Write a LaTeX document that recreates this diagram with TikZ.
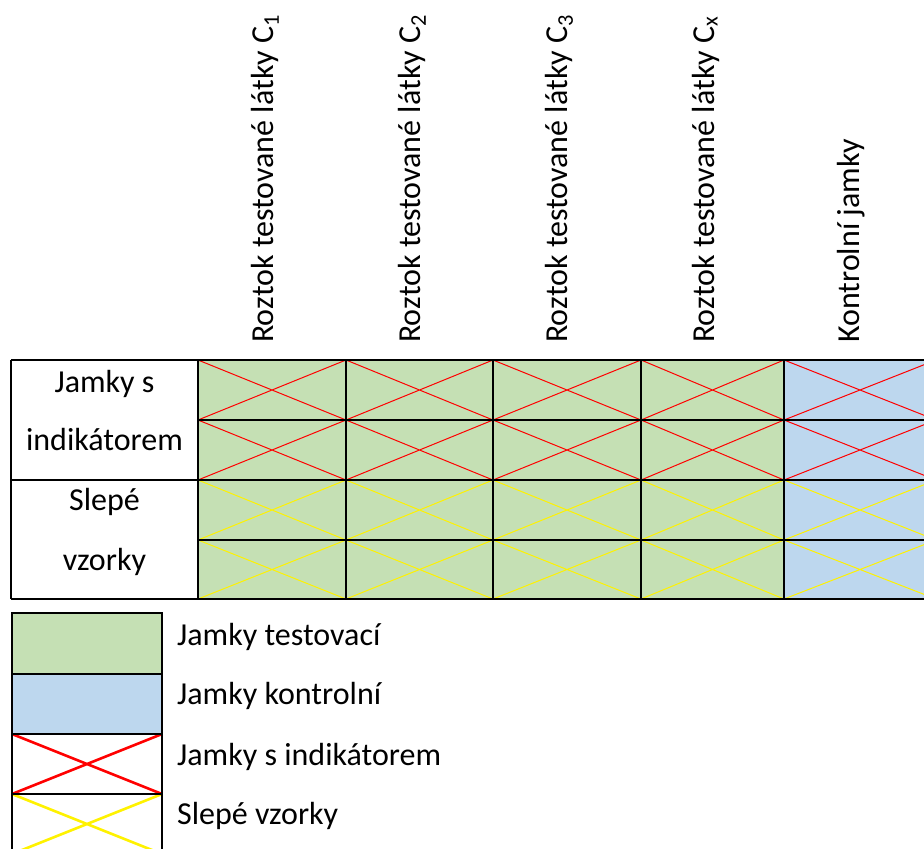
\documentclass[tikz,border=0pt]{standalone}
\usepackage{fontspec}
\setmainfont{Carlito}
\definecolor{wgreen}{HTML}{C5E0B4}
\definecolor{wblue}{HTML}{BDD7EE}
\begin{document}
\begin{tikzpicture}[x=1pt,y=-1pt,
  lbl/.style={font=\fontsize{32}{32}\selectfont, inner sep=0pt},
  gridline/.style={black, line width=1.9pt},
  cellx/.style={line width=1pt},
  legline/.style={black, line width=1.7pt},
  legx/.style={line width=2.6pt}]
\useasboundingbox (0,0) rectangle (924,849);
\clip (0,0) rectangle (924,849);
% cell fills
\fill[wgreen] (198,360) rectangle (784,599);
\fill[wblue] (784,360) rectangle (936,599);
% crosses in cells
\foreach \a/\b in {198/346,346/493,493/641,641/784,784/936}{
  \foreach \r/\s/\c in {360/420/red,420/480/red,480/540/yellow,540/599/yellow}{
    \draw[cellx,\c] (\a,\r) -- (\b,\s) (\a,\s) -- (\b,\r);
  }
}
% grid
\draw[gridline] (11,360) -- (936,360)
  (198,420) -- (936,420)
  (11,480) -- (936,480)
  (198,540) -- (936,540)
  (11,599) -- (936,599);
\foreach \x in {11,198,346,493,641,784}{
  \draw[gridline] (\x,360) -- (\x,599);
}
% row labels
\node[lbl, anchor=base] (r1a) at (104.5,392) {Jamky s};
\node[lbl, anchor=base] (r1b) at (104.5,450) {indikátorem};
\node[lbl, anchor=base] (r2a) at (104.5,510) {Slepé};
\node[lbl, anchor=base] (r2b) at (104.5,570) {vzorky};
% column labels
\node[lbl, rotate=90, anchor=base west] (c1) at (273,343) {Roztok testované látky C\textsubscript{1}};
\node[lbl, rotate=90, anchor=base west] (c2) at (420,343) {Roztok testované látky C\textsubscript{2}};
\node[lbl, rotate=90, anchor=base west] (c3) at (567,343) {Roztok testované látky C\textsubscript{3}};
\node[lbl, rotate=90, anchor=base west] (c4) at (714,343) {Roztok testované látky C\textsubscript{x}};
\node[lbl, rotate=90, anchor=base west] (c5) at (859,343) {Kontrolní jamky};
% legend
\fill[wgreen] (12,613) rectangle (162,674);
\fill[wblue] (12,674) rectangle (162,734);
\draw[legx, red] (12,734) -- (162,794) (12,794) -- (162,734);
\draw[legx, yellow] (12,794) -- (162,854) (12,854) -- (162,794);
\draw[legline] (12,613) rectangle (162,854)
  (12,674) -- (162,674)
  (12,734) -- (162,734)
  (12,794) -- (162,794);
\node[lbl, anchor=base west] (l1) at (177,645) {Jamky testovací};
\node[lbl, anchor=base west] (l2) at (177,704) {Jamky kontrolní};
\node[lbl, anchor=base west] (l3) at (177,765) {Jamky s indikátorem};
\node[lbl, anchor=base west] (l4) at (177,824) {Slepé vzorky};
\end{tikzpicture}
\end{document}
